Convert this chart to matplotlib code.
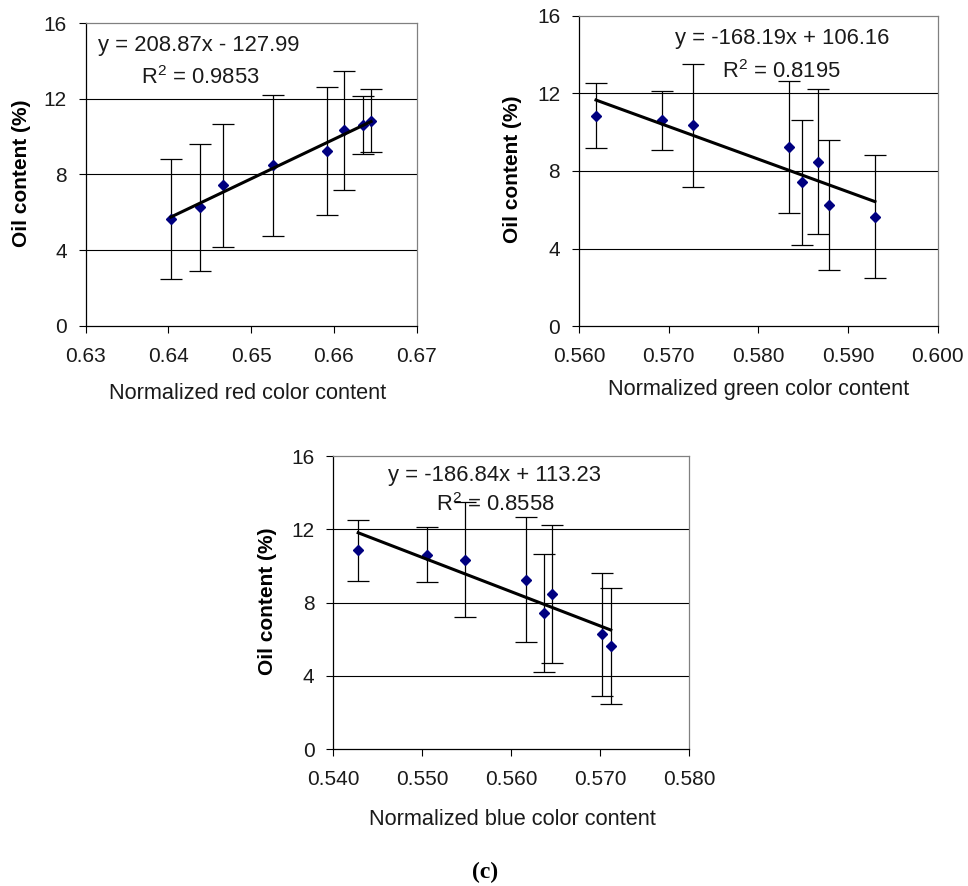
import numpy as np
import matplotlib
matplotlib.use("Agg")
import matplotlib.pyplot as plt
from matplotlib.ticker import FormatStrFormatter

plt.rcParams['font.family'] = ['Liberation Sans', 'DejaVu Sans']
plt.rcParams['mathtext.fontset'] = 'custom'
plt.rcParams['mathtext.rm'] = 'Liberation Sans'
plt.rcParams['mathtext.it'] = 'Liberation Sans:italic'
plt.rcParams['mathtext.bf'] = 'Liberation Sans:bold'

# ---- data ----
oil = [5.65, 6.27, 7.42, 8.48, 9.25, 10.35, 10.62, 10.85]
oil_err = [3.16, 3.35, 3.23, 3.75, 3.40, 3.15, 1.52, 1.68]
red = [0.6403, 0.6438, 0.6466, 0.6526, 0.6592, 0.6612, 0.6635, 0.6645]
green = [0.5930, 0.5879, 0.5849, 0.5867, 0.5834, 0.5727, 0.5693, 0.5619]
blue = [0.5712, 0.5702, 0.5637, 0.5646, 0.5617, 0.5548, 0.5505, 0.5428]

fits = {'red': (208.87, -127.99), 'green': (-168.19, 106.16), 'blue': (-186.84, 113.23)}
eq_text = {'red': 'y = 208.87x - 127.99', 'green': 'y = -168.19x + 106.16',
           'blue': 'y = -186.84x + 113.23'}
r2_text = {'red': r'R$^2$ = 0.9853', 'green': r'R$^2$ = 0.8195', 'blue': r'R$^2$ = 0.8558'}
xticks = {'red': [0.63, 0.64, 0.65, 0.66, 0.67],
          'green': [0.560, 0.570, 0.580, 0.590, 0.600],
          'blue': [0.540, 0.550, 0.560, 0.570, 0.580]}
xlabels = {'red': 'Normalized red color content', 'green': 'Normalized green color content',
           'blue': 'Normalized blue color content'}
yticks = [0, 4, 8, 12, 16]

fig = plt.figure(figsize=(9.68, 8.86), dpi=100)

specs = {
    'red':   dict(rect=[0.0885, 0.6324, 0.3419, 0.3413], fmt='%.2f', x=red,
                  eq=(0.342, 0.928), r2=(0.347, 0.822), xl=(0.49, -0.2226), yl=(-0.193, 0.504)),
    'green': dict(rect=[0.5981, 0.6317, 0.3706, 0.3506], fmt='%.3f', x=green,
                  eq=(0.567, 0.928), r2=(0.565, 0.819), xl=(0.502, -0.205), yl=(-0.184, 0.506)),
    'blue':  dict(rect=[0.3443, 0.1543, 0.3675, 0.3310], fmt='%.3f', x=blue,
                  eq=(0.452, 0.935), r2=(0.455, 0.833), xl=(0.504, -0.238), yl=(-0.186, 0.506)),
}

tick_color = '#1a1a1a'
for key, s in specs.items():
    ax = fig.add_axes(s['rect'])
    xs = np.array(s['x'])
    ax.errorbar(xs, oil, yerr=oil_err, fmt='none', ecolor='black', elinewidth=0.9,
                capsize=8, capthick=0.9, zorder=3)
    ax.plot(xs, oil, linestyle='none', marker='D', markersize=5.6,
            color='#000080', zorder=4)
    m, b = fits[key]
    xl = np.array([xs.min(), xs.max()])
    ax.plot(xl, m * xl + b, color='black', linewidth=2.2, zorder=5)

    tk = xticks[key]
    ax.set_xlim(tk[0], tk[-1])
    ax.set_ylim(0, 16)
    ax.set_xticks(tk)
    ax.set_yticks(yticks)
    ax.xaxis.set_major_formatter(FormatStrFormatter(s['fmt']))
    ax.yaxis.set_major_formatter(FormatStrFormatter('%d'))
    ax.tick_params(axis='both', direction='out', length=5, width=0.8, colors='black',
                   labelsize=15, labelcolor=tick_color)
    ax.tick_params(axis='x', pad=10)
    ax.tick_params(axis='y', pad=8.5)
    for yv in [4, 8, 12]:
        ax.axhline(yv, color='black', linewidth=0.8, zorder=1)
    ax.spines['left'].set_color('black')
    ax.spines['bottom'].set_color('black')
    ax.spines['top'].set_color('#808080')
    ax.spines['right'].set_color('#808080')
    for sp in ax.spines.values():
        sp.set_linewidth(0.9)

    ax.set_xlabel(xlabels[key], fontsize=15.7, color=tick_color, va='center', ha='center')
    ax.xaxis.set_label_coords(*s['xl'])
    ax.set_ylabel('Oil content (%)', fontsize=15, fontweight='bold', va='center', ha='center')
    ax.yaxis.set_label_coords(*s['yl'])

    ax.text(*s['eq'], eq_text[key], transform=ax.transAxes, ha='center', va='center',
            fontsize=15.8, color=tick_color, zorder=6)
    ax.text(*s['r2'], r2_text[key], transform=ax.transAxes, ha='center', va='center',
            fontsize=15.8, color=tick_color, zorder=6)

fig.text(485 / 968, 1 - 872 / 886, '(c)', ha='center', va='center', fontsize=17,
         fontweight='bold', family=['Liberation Serif', 'DejaVu Serif'])

fig.savefig('out.png', dpi=100)
